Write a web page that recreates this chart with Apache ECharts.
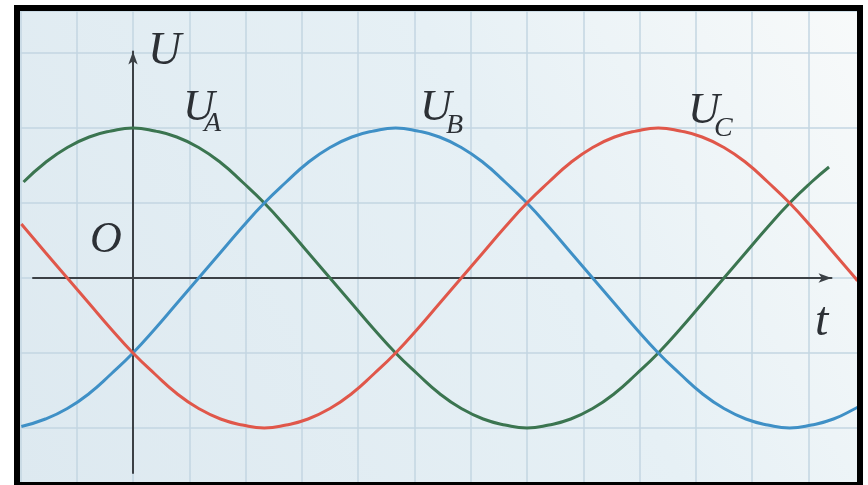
<!DOCTYPE html>
<html>
<head>
<meta charset="utf-8">
<title>U A B C</title>
<script src="https://cdn.jsdelivr.net/npm/echarts@6/dist/echarts.min.js"></script>
<style>
    html, body { margin: 0; padding: 0; background: #fff; width: 868px; height: 485px; overflow: hidden; }
    /* taller than the window so the paper grid can run on below the frame */
    #chart { width: 868px; height: 520px; }
</style>
</head>
<body>
<div id="chart"></div>
<script>
// t in degrees (ωt), U in units of the peak voltage
const tA = [-50, -40, -30, -20, -10, 0, 10, 20, 30, 40, 50, 60, 70, 80, 90, 100, 110, 120,
    130, 140, 150, 160, 170, 180, 190, 200, 210, 220, 230, 240, 250, 260, 270, 280, 290, 300, 310, 318];
const uA = [0.64, 0.77, 0.87, 0.94, 0.98, 1, 0.98, 0.94, 0.87, 0.77, 0.64, 0.5, 0.34, 0.17, 0, -0.17, -0.34, -0.5,
    -0.64, -0.77, -0.87, -0.94, -0.98, -1, -0.98, -0.94, -0.87, -0.77, -0.64, -0.5, -0.34, -0.17, 0, 0.17, 0.34, 0.5, 0.64, 0.74];

const tBC = [-51, -40, -30, -20, -10, 0, 10, 20, 30, 40, 50, 60, 70, 80, 90, 100, 110, 120,
    130, 140, 150, 160, 170, 180, 190, 200, 210, 220, 230, 240, 250, 260, 270, 280, 290, 300, 310, 320, 330, 331];
const uB = [-0.99, -0.94, -0.87, -0.77, -0.64, -0.5, -0.34, -0.17, 0, 0.17, 0.34, 0.5, 0.64, 0.77, 0.87, 0.94, 0.98, 1,
    0.98, 0.94, 0.87, 0.77, 0.64, 0.5, 0.34, 0.17, 0, -0.17, -0.34, -0.5, -0.64, -0.77, -0.87, -0.94, -0.98, -1, -0.98, -0.94, -0.87, -0.86];
const uC = [0.36, 0.17, 0, -0.17, -0.34, -0.5, -0.64, -0.77, -0.87, -0.94, -0.98, -1, -0.98, -0.94, -0.87, -0.77, -0.64, -0.5,
    -0.34, -0.17, 0, 0.17, 0.34, 0.5, 0.64, 0.77, 0.87, 0.94, 0.98, 1, 0.98, 0.94, 0.87, 0.77, 0.64, 0.5, 0.34, 0.17, 0, -0.02];

const pairs = (ts, us) => ts.map((t, i) => [t, us[i]]);

const serif = '"Liberation Serif", "DejaVu Serif", serif';
const ink = '#2c3035';
const axisColor = '#3b4045';
const paperLine = '#c3d6e2';

function label(x, y, text, size) {
    return {
        type: 'text',
        z: 50,
        style: {
            x: x,
            y: y,
            text: text,
            font: 'italic ' + size + 'px ' + serif,
            fill: ink,
            align: 'left',
            verticalAlign: 'middle'
        }
    };
}

const chart = echarts.init(document.getElementById('chart'));
const option = {
    backgroundColor: '#ffffff',
    animation: false,
    grid: [
        // plotting area (curves + paper grid), zero line at y = 278
        { left: 20.4, right: 10.5, top: 11, bottom: 17 },
        // axes only
        { left: 33, right: 36.5, top: 51.5, bottom: 47 }
    ],
    xAxis: [
        {
            type: 'value', gridIndex: 0,
            min: -51.43, max: 331, interval: 360 / 14,
            axisLine: { show: false }, axisTick: { show: false }, axisLabel: { show: false },
            splitLine: { show: true, lineStyle: { color: paperLine, width: 1.5 } }
        },
        {
            type: 'value', gridIndex: 1,
            min: -45.68, max: 319.1,
            axisLine: {
                show: true, onZero: true,
                symbol: ['none', 'arrow'], symbolSize: [7, 13],
                lineStyle: { color: axisColor, width: 2 }
            },
            axisTick: { show: false }, axisLabel: { show: false }, splitLine: { show: false }
        }
    ],
    yAxis: [
        {
            type: 'value', gridIndex: 0,
            min: -1.5, max: 1.78, interval: 0.5,
            axisLine: { show: false }, axisTick: { show: false }, axisLabel: { show: false },
            splitLine: { show: true, lineStyle: { color: paperLine, width: 1.5 } }
        },
        {
            type: 'value', gridIndex: 1,
            min: -1.3, max: 1.51,
            axisLine: {
                show: true, onZero: true,
                symbol: ['none', 'arrow'], symbolSize: [7, 13],
                lineStyle: { color: axisColor, width: 2 }
            },
            axisTick: { show: false }, axisLabel: { show: false }, splitLine: { show: false }
        }
    ],
    graphic: [
        {
            type: 'rect', z: -10,
            shape: { x: 17, y: 8, width: 843, height: 477 },
            style: {
                fill: new echarts.graphic.LinearGradient(0, 1, 1, 0, [
                    { offset: 0, color: '#dde9f0' },
                    { offset: 0.6, color: '#e6f0f5' },
                    { offset: 1, color: '#f8fafa' }
                ])
            }
        },
        {
            type: 'rect', z: 100,
            shape: { x: 17, y: 8, width: 843, height: 477 },
            style: { fill: 'none', stroke: '#000', lineWidth: 6 }
        },
        label(148, 52, 'U', 46),
        label(183, 108, 'U', 44),
        label(204, 124, 'A', 28),
        label(420, 108, 'U', 44),
        label(446, 126, 'B', 28),
        label(688, 111, 'U', 44),
        label(714, 129, 'C', 28),
        label(90, 240, 'O', 44),
        label(815, 322, 't', 48)
    ],
    series: [
        {
            name: 'UA', type: 'line', xAxisIndex: 0, yAxisIndex: 0,
            data: pairs(tA, uA), smooth: true, showSymbol: false, z: 3,
            lineStyle: { color: '#3b7550', width: 3 }
        },
        {
            name: 'UB', type: 'line', xAxisIndex: 0, yAxisIndex: 0,
            data: pairs(tBC, uB), smooth: true, showSymbol: false, z: 3,
            lineStyle: { color: '#3f90c6', width: 3 }
        },
        {
            name: 'UC', type: 'line', xAxisIndex: 0, yAxisIndex: 0,
            data: pairs(tBC, uC), smooth: true, showSymbol: false, z: 3,
            lineStyle: { color: '#e0574a', width: 3 }
        }
    ]
};
chart.setOption(option);
</script>
</body>
</html>
